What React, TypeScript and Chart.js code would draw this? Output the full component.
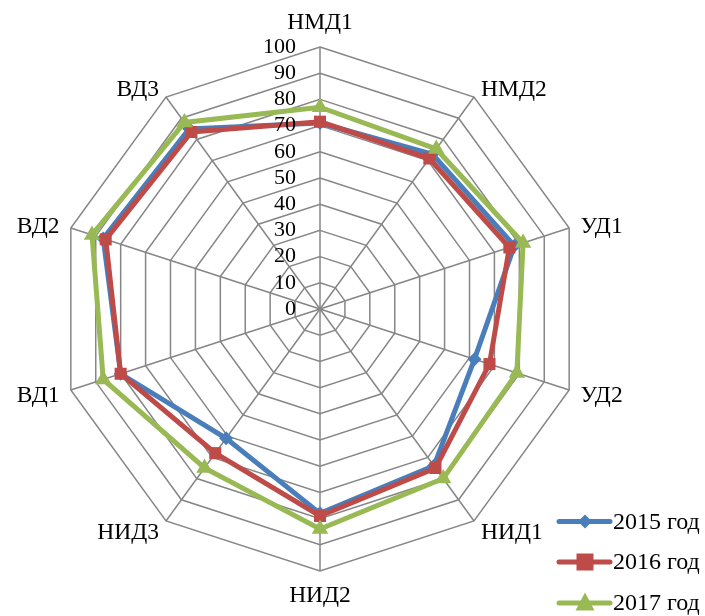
import React, { useEffect, useRef } from "react";
import { Chart, registerables } from "chart.js";

Chart.register(...registerables);

const categories = ["НМД1", "НМД2", "УД1", "УД2", "НИД1", "НИД2", "НИД3", "ВД1", "ВД2", "ВД3"];
const seriesNames = ["2015 год", "2016 год", "2017 год"];
const values2015 = [71, 73, 78, 62, 74, 78, 61, 80, 87, 85];
const values2016 = [71.5, 71, 76, 68, 75, 79, 68, 80, 86, 83.5];
const values2017 = [77, 75.5, 81.5, 79, 80, 84, 75, 87, 91.5, 88];
const tickMin = 0;
const tickMax = 100;
const tickStep = 10;

const colors = ["#4A7EBB", "#BE4B48", "#98B954"];
const styles = ["rectRot", "rect", "triangle"];
const FONT = "'Liberation Serif', 'Times New Roman', serif";

function drawMarker(ctx: CanvasRenderingContext2D, style: string, x: number, y: number, r: number, color: string) {
  ctx.save();
  ctx.fillStyle = color;
  ctx.beginPath();
  if (style === "rectRot") {
    ctx.moveTo(x, y - r);
    ctx.lineTo(x + r, y);
    ctx.lineTo(x, y + r);
    ctx.lineTo(x - r, y);
  } else if (style === "rect") {
    ctx.rect(x - r, y - r, 2 * r, 2 * r);
  } else {
    ctx.moveTo(x, y - r * 1.1);
    ctx.lineTo(x + r, y + r * 0.8);
    ctx.lineTo(x - r, y + r * 0.8);
  }
  ctx.closePath();
  ctx.fill();
  ctx.restore();
}

const labelsPlugin = {
  id: "customLabels",
  afterDraw(chart: any) {
    const scale = chart.scales.r;
    const ctx: CanvasRenderingContext2D = chart.ctx;
    ctx.save();
    ctx.fillStyle = "#000";
    ctx.font = `22px ${FONT}`;
    ctx.textAlign = "right";
    ctx.textBaseline = "middle";
    scale.ticks.forEach((t: any) => {
      const d = scale.getDistanceFromCenterForValue(t.value);
      ctx.fillText(String(t.value), scale.xCenter - 24, scale.yCenter - d);
    });
    ctx.font = `23.5px ${FONT}`;
    categories.forEach((lab, i) => {
      const pos = scale.getPointPosition(i, scale.drawingArea + 12);
      const a = scale.getIndexAngle(i);
      const s = Math.sin(a);
      const c = Math.cos(a);
      const x = pos.x;
      let y = pos.y;
      if (Math.abs(s) < 0.01) {
        ctx.textAlign = "center";
        y = c > 0 ? pos.y - 12 : pos.y + 13;
      } else {
        ctx.textAlign = s > 0 ? "left" : "right";
        y = pos.y + 2;
      }
      ctx.fillText(lab, x, y);
    });
    const legendX = 559;
    const legendYs = [521.5, 562, 603];
    ctx.textAlign = "left";
    ctx.font = `24px ${FONT}`;
    chart.data.datasets.forEach((ds: any, i: number) => {
      const y = legendYs[i];
      ctx.strokeStyle = ds.borderColor;
      ctx.lineWidth = 5;
      ctx.lineCap = "round";
      ctx.beginPath();
      ctx.moveTo(legendX, y);
      ctx.lineTo(legendX + 51, y);
      ctx.stroke();
      drawMarker(ctx, ds.pointStyle, legendX + 26, y, ds.pointRadius, ds.backgroundColor);
      ctx.fillStyle = "#000";
      ctx.fillText(ds.label, legendX + 54, y + 1);
    });
    ctx.restore();
  },
};

export default function App() {
  const ref = useRef<HTMLCanvasElement | null>(null);
  useEffect(() => {
    document.body.style.margin = "0";
    if (!ref.current) return;
    const allValues = [values2015, values2016, values2017];
    const radii = [7, 8.5, 9.5];
    const chart = new Chart(ref.current, {
      type: "radar",
      data: {
        labels: categories,
        datasets: allValues.map((vals, i) => ({
          label: seriesNames[i],
          data: vals,
          borderColor: colors[i],
          backgroundColor: colors[i],
          pointBackgroundColor: colors[i],
          pointBorderColor: colors[i],
          pointBorderWidth: 0,
          borderWidth: 5,
          fill: false,
          pointStyle: styles[i],
          pointRadius: radii[i],
          order: 3 - i,
        })),
      },
      options: {
        responsive: false,
        animation: false,
        layout: { padding: { top: 47, bottom: 45, left: 58, right: 123 } },
        plugins: { legend: { display: false }, tooltip: { enabled: false } },
        scales: {
          r: {
            min: tickMin,
            max: tickMax,
            ticks: { display: false, stepSize: tickStep },
            grid: { color: "#868686", lineWidth: 1.5 },
            angleLines: { color: "#868686", lineWidth: 1.5 },
            pointLabels: { display: false },
          },
        },
      },
      plugins: [labelsPlugin],
    });
    return () => chart.destroy();
  }, []);
  return (
    <div style={{ position: "absolute", left: 0, top: 0, width: 705, height: 616, overflow: "hidden", background: "#fff" }}>
      <canvas ref={ref} width={705} height={616} style={{ width: 705, height: 616 }} />
    </div>
  );
}
